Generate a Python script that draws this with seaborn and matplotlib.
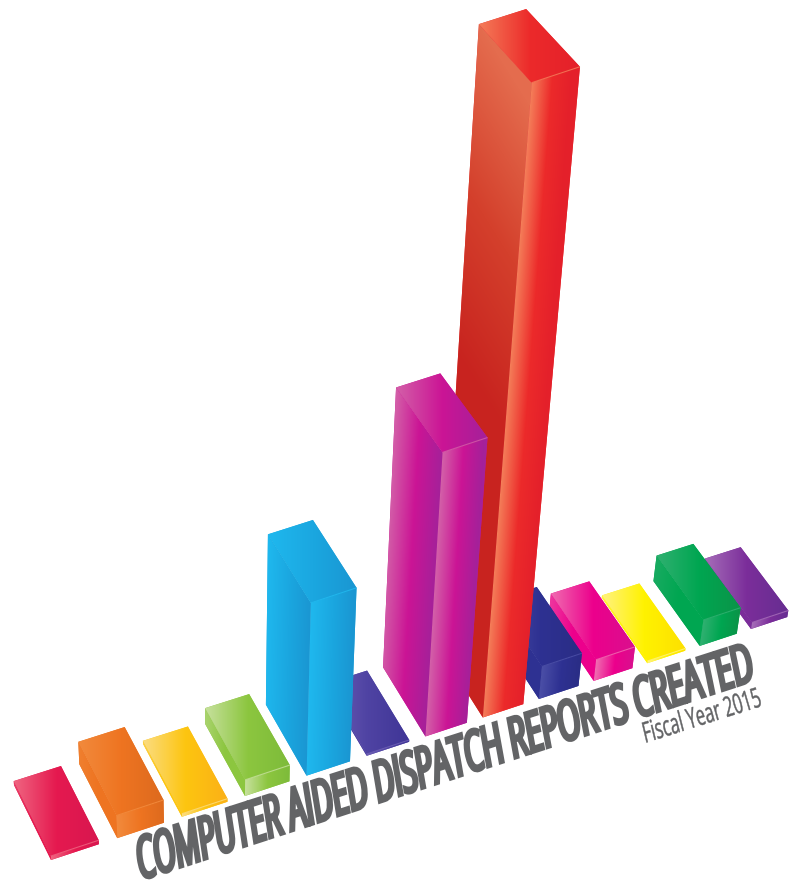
import numpy as np
import pandas as pd
import seaborn as sns
import matplotlib
matplotlib.use("Agg")
import matplotlib.pyplot as plt
from matplotlib.patches import Polygon
from matplotlib.path import Path
from matplotlib.patheffects import AbstractPathEffect
from matplotlib.transforms import IdentityTransform, Transform

# ---- values -------------------------------------------------------------
categories = list("ABCDEFGHIJKLM")
reports = [0.65, 3.7, 0.5, 2.6, 27.7, 0.3, 45.0, 100.0, 5.1, 3.3, 0.35, 4.0, 1.0]

# colour ramps of each bar, from the lit edge to the shaded edge
light = ["#ef6480", "#f28a3c", "#fbdc80", "#c6e09c", "#1fb8ee", "#6d5fb4", "#d35fa8",
         "#f47c58", "#4a4ea6", "#f06bb0", "#fff37e", "#2fb070", "#a56cb8"]
mid = ["#e5194f", "#ee7421", "#fdc510", "#8cc63f", "#1ba7e0", "#4f43a3", "#cb1495",
       "#ec2a2a", "#2e3192", "#ec008c", "#fff200", "#00a651", "#7b2d9a"]
dark = ["#d8174f", "#dd6a1e", "#fbb017", "#7dbb3a", "#1a96d2", "#3f3596", "#a4219a",
        "#e4202a", "#2a2d85", "#d9108e", "#fde000", "#0b9448", "#662d91"]

title = "COMPUTER AIDED DISPATCH REPORTS CREATED"
subtitle = "Fiscal Year 2015"

# ---- projection of the bar scene -----------------------------------------
BAR_WIDTH = 0.72
RUN = 0.15                     # foreshortening along the row of bars
FRONT_START = np.array([51.0, 860.0])
FRONT_END = np.array([751.0, 629.0])
DEPTH_START = np.array([-37.0, -75.0])
DEPTH_END = np.array([-47.0, -64.0])
VANISH = np.array([226.0, 4050.0])
RISE = 0.001905


def project(u, d, h):
    """Scene coordinates (row position, depth 0-1, value) to canvas pixels."""
    u, d, h = np.broadcast_arrays(np.asarray(u, float), np.asarray(d, float), np.asarray(h, float))
    t = (u + BAR_WIDTH / 2) / (len(categories) - 1)
    s = t * (1 + RUN) / (1 + RUN * t)
    gx = FRONT_START[0] + s * (FRONT_END[0] - FRONT_START[0]) + d * (DEPTH_START[0] + s * (DEPTH_END[0] - DEPTH_START[0]))
    gy = FRONT_START[1] + s * (FRONT_END[1] - FRONT_START[1]) + d * (DEPTH_START[1] + s * (DEPTH_END[1] - DEPTH_START[1]))
    k = RISE * h * (1 - 0.035 * d)
    return np.column_stack([gx + (gx - VANISH[0]) * k, gy + (gy - VANISH[1]) * k])


class RowPlane(Transform):
    """Maps the (category position, value) plane of the bar chart into the scene."""
    input_dims = 2
    output_dims = 2
    has_inverse = False

    def transform_non_affine(self, values):
        values = np.asarray(values)
        return project(values[:, 0], 0.0, values[:, 1])


class LayOnBand(AbstractPathEffect):
    """Draws a text's glyphs inside a four-cornered band, narrowing along its length."""

    def __init__(self, axes, base, top, angle, run=0.0, stroke=0.0):
        super().__init__()
        self.axes, self.base, self.top = axes, base, top
        self.angle, self.run, self.stroke = np.deg2rad(angle), run, stroke

    def draw_path(self, renderer, gc, tpath, affine, rgbFace=None):
        to_display = self.axes.transData.transform
        b0, b1 = to_display(self.base)
        t0, t1 = to_display(self.top)
        pts = affine.transform(tpath.vertices)
        origin = affine.transform([[0.0, 0.0]])[0]
        c, s = np.cos(self.angle), np.sin(self.angle)
        rel = pts - origin
        along = rel[:, 0] * c + rel[:, 1] * s
        up = -rel[:, 0] * s + rel[:, 1] * c
        a = (along - along.min()) / np.ptp(along)
        f = up / up.max()
        a = a * (1 + self.run) / (1 + self.run * a)
        low = b0 + a[:, None] * (b1 - b0)
        high = t0 + a[:, None] * (t1 - t0)
        warped = Path(low + f[:, None] * (high - low), tpath.codes)
        gc0 = renderer.new_gc()
        gc0.copy_properties(gc)
        gc0.set_linewidth(self.stroke)
        gc0.set_joinstyle("miter")
        gc0.set_foreground(rgbFace[:3] if self.stroke else "none")
        renderer.draw_path(gc0, warped, IdentityTransform(), rgbFace)
        gc0.restore()


# ---- drawing --------------------------------------------------------------
sns.set_theme(style="white")
plt.rcParams["font.family"] = ["Open Sans", "DejaVu Sans"]

fig = plt.figure(figsize=(8.01, 8.84), dpi=100, facecolor="white")
ax = fig.add_axes([0, 0, 1, 1])

frame = pd.DataFrame({"category": categories, "reports": reports})
sns.barplot(data=frame, x="category", y="reports", hue="category", palette=mid,
            width=BAR_WIDTH, legend=False, saturation=1, ax=ax)
ax.set_autoscale_on(False)
ax.set_xlim(0, 801)
ax.set_ylim(884, 0)


def shade(a, b, along, stops, clip_path, clip_transform, z):
    """Fill a clipped area with a ramp running from a to b, contours parallel to along."""
    a, b, along = np.asarray(a), np.asarray(b), np.asarray(along)
    verts = clip_transform.transform(clip_path.vertices)
    verts = ax.transData.inverted().transform(verts)
    x0, y0 = np.floor(verts.min(axis=0)) - 1
    x1, y1 = np.ceil(verts.max(axis=0)) + 1
    X, Y = np.meshgrid(np.arange(x0, x1 + 1), np.arange(y0, y1 + 1))
    normal = np.array([-along[1], along[0]])
    t = ((X - a[0]) * normal[0] + (Y - a[1]) * normal[1]) / np.dot(b - a, normal)
    ramp = sns.blend_palette(stops, as_cmap=True)
    im = ax.imshow(ramp(np.clip(t, 0, 1)), extent=(x0, x1 + 1, y1 + 1, y0), origin="upper",
                   aspect="auto", interpolation="bilinear", zorder=z)
    im.set_clip_path(clip_path, clip_transform)


bars = sorted(ax.patches, key=lambda r: r.get_x())
for i, bar in enumerate(bars):
    u0, u1, h = bar.get_x(), bar.get_x() + bar.get_width(), bar.get_height()
    z = 2 + 3 * (len(bars) - i)
    (fb, rb, ft, rt) = project([u0, u1, u0, u1], 0, [0, 0, h, h])
    (lb, bb, lt, bt) = project([u0, u1, u0, u1], 1, [0, 0, h, h])

    # face along the row: the bar itself, bent into the scene
    bar.set_transform(RowPlane() + ax.transData)
    bar.set_zorder(z)
    bar.set_edgecolor("none")
    shade(fb, rb, ft - fb, [light[i], mid[i], dark[i]],
          bar.get_path(), bar.get_transform(), z + 0.1)

    # face along the depth
    side = Polygon([lb, fb, ft, lt], closed=True, fc=mid[i], ec="none", zorder=z)
    ax.add_patch(side)
    if reports[i] == max(reports):
        shade(lt, fb + (ft - fb) * 0.45, lb - fb, ["#e46c4e", "#d4402c", "#c8231f"],
              side.get_path(), side.get_transform(), z + 0.1)
    elif reports[i] > 10:
        shade(lt, ft, ft - fb, [light[i], mid[i], dark[i]],
              side.get_path(), side.get_transform(), z + 0.1)
    else:
        softened = sns.blend_palette([light[i], mid[i]], 3)[1]
        shade(lt, ft, ft - fb, [softened, mid[i], mid[i]],
              side.get_path(), side.get_transform(), z + 0.1)

    # top of the bar: lit from the left of the canvas
    top = Polygon([lt, bt, rt, ft], closed=True, fc=mid[i], ec="none", zorder=z + 1)
    ax.add_patch(top)
    shade(lt, rt, np.array([0.0, 1.0]), [light[i], mid[i], dark[i]],
          top.get_path(), top.get_transform(), z + 1.1)

    # catch-light along the front rim of the top
    rim = Polygon([ft, rt], closed=False, fill=False, ec=light[i], lw=0.8, alpha=0.8, zorder=z + 1.2)
    ax.add_patch(rim)

# ---- title along the foot of the row ---------------------------------------
GREY = "#636466"
heading = ax.text(140, 880, title, rotation=18, rotation_mode="anchor", ha="left", va="baseline",
                  fontsize=18, color=GREY, zorder=90)
heading.set_path_effects([LayOnBand(ax, [(140, 880), (754, 680)], [(134, 838), (746, 642)],
                                    18, run=-0.02, stroke=2.7)])
fiscal = ax.text(645, 743, subtitle, rotation=18, rotation_mode="anchor", ha="left", va="baseline",
                 fontsize=11, color=GREY, zorder=90)
fiscal.set_path_effects([LayOnBand(ax, [(645, 743), (762, 706)], [(640, 722), (756, 686)],
                                   18, stroke=0.3)])

ax.set_xlim(0, 801)
ax.set_ylim(884, 0)
ax.set_axis_off()
sns.despine(ax=ax, left=True, bottom=True)
fig.savefig("out.png", dpi=100, facecolor="white")
